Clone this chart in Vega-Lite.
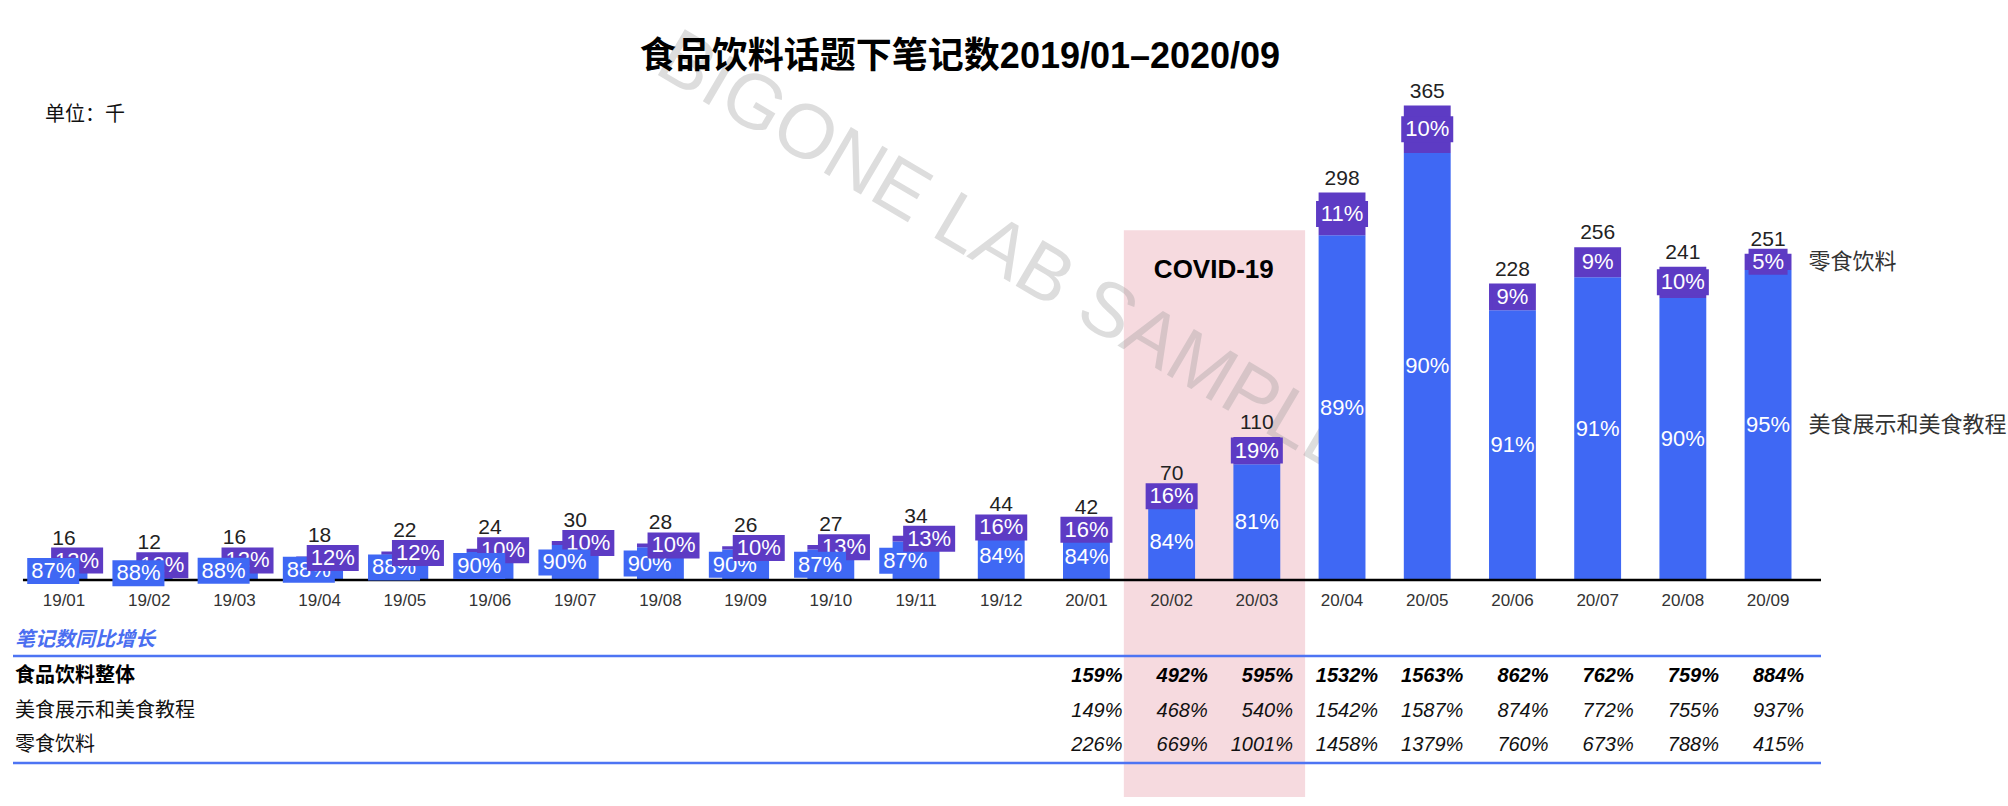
{
  "$schema": "https://vega.github.io/schema/vega-lite/v6.json",
  "autosize": "none",
  "width": 1808,
  "height": 715,
  "padding": {"left": 13, "top": 86, "right": 187, "bottom": 5},
  "background": "white",
  "title": {"text": "食品饮料话题下笔记数2019/01–2020/09", "fontSize": 36, "fontWeight": "bold", "color": "#000000", "anchor": "middle", "frame": "group", "dx": 43, "offset": -58},
  "config": {
    "view": {"stroke": null},
    "font": "Liberation Sans, 'Noto Sans CJK SC', sans-serif"
  },
  "datasets": {
    "notes": [
      {"m": "19/01", "s": "美食展示和美食教程", "v": 13.92, "p": 0.87, "t": 16},
      {"m": "19/01", "s": "零食饮料", "v": 2.08, "p": 0.13, "t": 16},
      {"m": "19/02", "s": "美食展示和美食教程", "v": 10.56, "p": 0.88, "t": 12},
      {"m": "19/02", "s": "零食饮料", "v": 1.44, "p": 0.12, "t": 12},
      {"m": "19/03", "s": "美食展示和美食教程", "v": 14.08, "p": 0.88, "t": 16},
      {"m": "19/03", "s": "零食饮料", "v": 1.92, "p": 0.12, "t": 16},
      {"m": "19/04", "s": "美食展示和美食教程", "v": 15.84, "p": 0.88, "t": 18},
      {"m": "19/04", "s": "零食饮料", "v": 2.16, "p": 0.12, "t": 18},
      {"m": "19/05", "s": "美食展示和美食教程", "v": 19.36, "p": 0.88, "t": 22},
      {"m": "19/05", "s": "零食饮料", "v": 2.64, "p": 0.12, "t": 22},
      {"m": "19/06", "s": "美食展示和美食教程", "v": 21.6, "p": 0.90, "t": 24},
      {"m": "19/06", "s": "零食饮料", "v": 2.4, "p": 0.10, "t": 24},
      {"m": "19/07", "s": "美食展示和美食教程", "v": 27, "p": 0.90, "t": 30},
      {"m": "19/07", "s": "零食饮料", "v": 3, "p": 0.10, "t": 30},
      {"m": "19/08", "s": "美食展示和美食教程", "v": 25.2, "p": 0.90, "t": 28},
      {"m": "19/08", "s": "零食饮料", "v": 2.8, "p": 0.10, "t": 28},
      {"m": "19/09", "s": "美食展示和美食教程", "v": 23.4, "p": 0.90, "t": 26},
      {"m": "19/09", "s": "零食饮料", "v": 2.6, "p": 0.10, "t": 26},
      {"m": "19/10", "s": "美食展示和美食教程", "v": 23.49, "p": 0.87, "t": 27},
      {"m": "19/10", "s": "零食饮料", "v": 3.51, "p": 0.13, "t": 27},
      {"m": "19/11", "s": "美食展示和美食教程", "v": 29.58, "p": 0.87, "t": 34},
      {"m": "19/11", "s": "零食饮料", "v": 4.42, "p": 0.13, "t": 34},
      {"m": "19/12", "s": "美食展示和美食教程", "v": 36.96, "p": 0.84, "t": 44},
      {"m": "19/12", "s": "零食饮料", "v": 7.04, "p": 0.16, "t": 44},
      {"m": "20/01", "s": "美食展示和美食教程", "v": 35.28, "p": 0.84, "t": 42},
      {"m": "20/01", "s": "零食饮料", "v": 6.72, "p": 0.16, "t": 42},
      {"m": "20/02", "s": "美食展示和美食教程", "v": 58.8, "p": 0.84, "t": 70},
      {"m": "20/02", "s": "零食饮料", "v": 11.2, "p": 0.16, "t": 70},
      {"m": "20/03", "s": "美食展示和美食教程", "v": 89.1, "p": 0.81, "t": 110},
      {"m": "20/03", "s": "零食饮料", "v": 20.9, "p": 0.19, "t": 110},
      {"m": "20/04", "s": "美食展示和美食教程", "v": 265.22, "p": 0.89, "t": 298},
      {"m": "20/04", "s": "零食饮料", "v": 32.78, "p": 0.11, "t": 298},
      {"m": "20/05", "s": "美食展示和美食教程", "v": 328.5, "p": 0.90, "t": 365},
      {"m": "20/05", "s": "零食饮料", "v": 36.5, "p": 0.10, "t": 365},
      {"m": "20/06", "s": "美食展示和美食教程", "v": 207.48, "p": 0.91, "t": 228},
      {"m": "20/06", "s": "零食饮料", "v": 20.52, "p": 0.09, "t": 228},
      {"m": "20/07", "s": "美食展示和美食教程", "v": 232.96, "p": 0.91, "t": 256},
      {"m": "20/07", "s": "零食饮料", "v": 23.04, "p": 0.09, "t": 256},
      {"m": "20/08", "s": "美食展示和美食教程", "v": 216.9, "p": 0.90, "t": 241},
      {"m": "20/08", "s": "零食饮料", "v": 24.1, "p": 0.10, "t": 241},
      {"m": "20/09", "s": "美食展示和美食教程", "v": 238.45, "p": 0.95, "t": 251},
      {"m": "20/09", "s": "零食饮料", "v": 12.55, "p": 0.05, "t": 251}
    ],
    "growth": [
      {"m": "20/01", "r": "食品饮料整体", "g": 1.59},
      {"m": "20/02", "r": "食品饮料整体", "g": 4.92},
      {"m": "20/03", "r": "食品饮料整体", "g": 5.95},
      {"m": "20/04", "r": "食品饮料整体", "g": 15.32},
      {"m": "20/05", "r": "食品饮料整体", "g": 15.63},
      {"m": "20/06", "r": "食品饮料整体", "g": 8.62},
      {"m": "20/07", "r": "食品饮料整体", "g": 7.62},
      {"m": "20/08", "r": "食品饮料整体", "g": 7.59},
      {"m": "20/09", "r": "食品饮料整体", "g": 8.84},
      {"m": "20/01", "r": "美食展示和美食教程", "g": 1.49},
      {"m": "20/02", "r": "美食展示和美食教程", "g": 4.68},
      {"m": "20/03", "r": "美食展示和美食教程", "g": 5.40},
      {"m": "20/04", "r": "美食展示和美食教程", "g": 15.42},
      {"m": "20/05", "r": "美食展示和美食教程", "g": 15.87},
      {"m": "20/06", "r": "美食展示和美食教程", "g": 8.74},
      {"m": "20/07", "r": "美食展示和美食教程", "g": 7.72},
      {"m": "20/08", "r": "美食展示和美食教程", "g": 7.55},
      {"m": "20/09", "r": "美食展示和美食教程", "g": 9.37},
      {"m": "20/01", "r": "零食饮料", "g": 2.26},
      {"m": "20/02", "r": "零食饮料", "g": 6.69},
      {"m": "20/03", "r": "零食饮料", "g": 10.01},
      {"m": "20/04", "r": "零食饮料", "g": 14.58},
      {"m": "20/05", "r": "零食饮料", "g": 13.79},
      {"m": "20/06", "r": "零食饮料", "g": 7.60},
      {"m": "20/07", "r": "零食饮料", "g": 6.73},
      {"m": "20/08", "r": "零食饮料", "g": 7.88},
      {"m": "20/09", "r": "零食饮料", "g": 4.15}
    ]
  },
  "data": {"name": "notes"},
  "layer": [
    {
      "mark": {"type": "bar", "opacity": 0},
      "encoding": {
        "x": {"field": "m", "type": "nominal", "axis": null,
              "scale": {"domain": ["19/01","19/02","19/03","19/04","19/05","19/06","19/07","19/08","19/09","19/10","19/11","19/12","20/01","20/02","20/03","20/04","20/05","20/06","20/07","20/08","20/09"],
                        "paddingInner": 0.45, "paddingOuter": 0.335, "align": 0.483}},
        "y": {"field": "v", "type": "quantitative", "stack": "zero", "axis": null,
              "scale": {"domain": [-170, 380], "nice": false, "zero": false}},
        "color": {"field": "s", "type": "nominal", "legend": null,
                  "scale": {"domain": ["美食展示和美食教程", "零食饮料"], "range": ["#3f68f4", "#5d3bc4"]}},
        "order": {"field": "s", "sort": "ascending"}
      }
    },
    {
      "data": {"values": [{}]},
      "mark": {"type": "rect", "color": "#f6dadf"},
      "encoding": {
        "x": {"datum": "20/02", "type": "nominal", "bandPosition": -0.52},
        "x2": {"datum": "20/03", "bandPosition": 1.53},
        "y": {"datum": 269, "type": "quantitative"},
        "y2": {"datum": -167}
      }
    },
    {
      "data": {"values": [{}]},
      "mark": {"type": "text", "text": "BIGONE LAB SAMPLE", "fontSize": 77, "angle": 30.5, "color": "#999999", "opacity": 0.33, "align": "center", "baseline": "middle"},
      "encoding": {
        "x": {"datum": "19/12", "type": "nominal", "bandPosition": 0.666},
        "y": {"datum": 250, "type": "quantitative"}
      }
    },
    {
      "mark": {"type": "bar"},
      "encoding": {
        "x": {"field": "m", "type": "nominal"},
        "y": {"field": "v", "type": "quantitative", "stack": "zero"},
        "color": {"field": "s", "type": "nominal"},
        "order": {"field": "s", "sort": "ascending"}
      }
    },
    {
      "data": {"values": [{}]},
      "mark": {"type": "rule", "color": "#000000", "strokeWidth": 2.5},
      "encoding": {
        "x": {"datum": "19/01", "type": "nominal", "bandPosition": -0.376},
        "x2": {"datum": "20/09", "bandPosition": 1.63},
        "y": {"datum": 0, "type": "quantitative"}
      }
    },
    {
      "transform": [{"filter": {"field": "m", "oneOf": ["19/01","19/02","19/03","19/06","19/07","19/10"]}}],
      "mark": {"type": "point", "filled": true, "size": 2704, "strokeWidth": 0},
      "encoding": {
        "x": {"field": "m", "type": "nominal", "bandPosition": 0.78},
        "y": {"field": "v", "type": "quantitative", "stack": "zero", "bandPosition": 0.5},
        "color": {"field": "s", "type": "nominal"},
        "order": {"field": "s", "sort": "ascending"},
        "shape": {"value": "M-1,-0.5H1V0.5H-1Z"},
        "opacity": {"condition": {"test": "datum.s == '零食饮料'", "value": 1}, "value": 0}
      }
    },
    {
      "transform": [{"filter": {"field": "m", "oneOf": ["19/01","19/02","19/03","19/06","19/07","19/10"]}}],
      "mark": {"type": "text", "color": "#ffffff", "fontSize": 22, "baseline": "middle"},
      "encoding": {
        "x": {"field": "m", "type": "nominal", "bandPosition": 0.78},
        "y": {"field": "v", "type": "quantitative", "stack": "zero", "bandPosition": 0.5},
        "detail": {"field": "s"},
        "order": {"field": "s", "sort": "ascending"},
        "text": {"condition": {"test": "datum.s == '零食饮料'", "field": "p", "type": "quantitative", "format": ".0%"}, "value": ""}
      }
    },
    {
      "transform": [{"filter": "datum.t < 40"}],
      "mark": {"type": "point", "filled": true, "size": 2704, "strokeWidth": 0},
      "encoding": {
        "x": {"field": "m", "type": "nominal", "bandPosition": 0.27},
        "y": {"field": "v", "type": "quantitative", "stack": "zero", "bandPosition": 0.5},
        "color": {"field": "s", "type": "nominal"},
        "order": {"field": "s", "sort": "ascending"},
        "shape": {"value": "M-1,-0.5H1V0.5H-1Z"},
        "opacity": {"condition": {"test": "datum.s == '美食展示和美食教程'", "value": 1}, "value": 0}
      }
    },
    {
      "transform": [{"filter": "datum.t < 40"}],
      "mark": {"type": "text", "color": "#ffffff", "fontSize": 22, "baseline": "middle"},
      "encoding": {
        "x": {"field": "m", "type": "nominal", "bandPosition": 0.27},
        "y": {"field": "v", "type": "quantitative", "stack": "zero", "bandPosition": 0.5},
        "detail": {"field": "s"},
        "order": {"field": "s", "sort": "ascending"},
        "text": {"condition": {"test": "datum.s == '美食展示和美食教程'", "field": "p", "type": "quantitative", "format": ".0%"}, "value": ""}
      }
    },
    {
      "transform": [{"filter": "datum.t >= 40"}],
      "mark": {"type": "text", "color": "#ffffff", "fontSize": 22, "baseline": "middle"},
      "encoding": {
        "x": {"field": "m", "type": "nominal"},
        "y": {"field": "v", "type": "quantitative", "stack": "zero", "bandPosition": 0.5},
        "detail": {"field": "s"},
        "order": {"field": "s", "sort": "ascending"},
        "text": {"condition": {"test": "datum.s == '美食展示和美食教程'", "field": "p", "type": "quantitative", "format": ".0%"}, "value": ""}
      }
    },
    {
      "transform": [{"filter": {"and": [{"field": "t", "lt": 40}, {"not": {"field": "m", "oneOf": ["19/01","19/02","19/03","19/06","19/07","19/10"]}}]}}],
      "mark": {"type": "point", "filled": true, "size": 2704, "strokeWidth": 0},
      "encoding": {
        "x": {"field": "m", "type": "nominal", "bandPosition": 0.78},
        "y": {"field": "v", "type": "quantitative", "stack": "zero", "bandPosition": 0.5},
        "color": {"field": "s", "type": "nominal"},
        "order": {"field": "s", "sort": "ascending"},
        "shape": {"value": "M-1,-0.5H1V0.5H-1Z"},
        "opacity": {"condition": {"test": "datum.s == '零食饮料'", "value": 1}, "value": 0}
      }
    },
    {
      "transform": [{"filter": {"and": [{"field": "t", "lt": 40}, {"not": {"field": "m", "oneOf": ["19/01","19/02","19/03","19/06","19/07","19/10"]}}]}}],
      "mark": {"type": "text", "color": "#ffffff", "fontSize": 22, "baseline": "middle"},
      "encoding": {
        "x": {"field": "m", "type": "nominal", "bandPosition": 0.78},
        "y": {"field": "v", "type": "quantitative", "stack": "zero", "bandPosition": 0.5},
        "detail": {"field": "s"},
        "order": {"field": "s", "sort": "ascending"},
        "text": {"condition": {"test": "datum.s == '零食饮料'", "field": "p", "type": "quantitative", "format": ".0%"}, "value": ""}
      }
    },
    {
      "transform": [{"filter": "datum.t >= 40"}],
      "mark": {"type": "point", "filled": true, "size": 2704, "strokeWidth": 0},
      "encoding": {
        "x": {"field": "m", "type": "nominal"},
        "y": {"field": "v", "type": "quantitative", "stack": "zero", "bandPosition": 0.5},
        "color": {"field": "s", "type": "nominal"},
        "order": {"field": "s", "sort": "ascending"},
        "shape": {"condition": {"test": "datum.p < 0.1", "value": "M-0.75,-0.5H0.75V0.5H-0.75Z"}, "value": "M-1,-0.5H1V0.5H-1Z"},
        "opacity": {"condition": {"test": "datum.s == '零食饮料'", "value": 1}, "value": 0}
      }
    },
    {
      "transform": [{"filter": "datum.t >= 40"}],
      "mark": {"type": "text", "color": "#ffffff", "fontSize": 22, "baseline": "middle"},
      "encoding": {
        "x": {"field": "m", "type": "nominal"},
        "y": {"field": "v", "type": "quantitative", "stack": "zero", "bandPosition": 0.5},
        "detail": {"field": "s"},
        "order": {"field": "s", "sort": "ascending"},
        "text": {"condition": {"test": "datum.s == '零食饮料'", "field": "p", "type": "quantitative", "format": ".0%"}, "value": ""}
      }
    },
    {
      "transform": [{"filter": "(datum.s == '零食饮料' ? datum.v : datum.t - datum.v) < 20"}],
      "mark": {"type": "text", "color": "#222222", "fontSize": 21, "baseline": "alphabetic", "dy": -16},
      "encoding": {
        "x": {"field": "m", "type": "nominal"},
        "y": {"field": "v", "type": "quantitative", "stack": "zero", "bandPosition": 0.5},
        "detail": {"field": "s"},
        "order": {"field": "s", "sort": "ascending"},
        "text": {"condition": {"test": "datum.s == '零食饮料'", "field": "t", "type": "quantitative"}, "value": ""}
      }
    },
    {
      "transform": [{"filter": "(datum.s == '零食饮料' ? datum.v : datum.t - datum.v) >= 20"}],
      "mark": {"type": "text", "color": "#222222", "fontSize": 21, "baseline": "alphabetic", "dy": -8},
      "encoding": {
        "x": {"field": "m", "type": "nominal"},
        "y": {"field": "v", "type": "quantitative", "stack": "zero"},
        "detail": {"field": "s"},
        "order": {"field": "s", "sort": "ascending"},
        "text": {"condition": {"test": "datum.s == '零食饮料'", "field": "t", "type": "quantitative"}, "value": ""}
      }
    },
    {
      "transform": [{"filter": "datum.m == '20/09'"}],
      "mark": {"type": "text", "color": "#333333", "fontSize": 22, "align": "left", "baseline": "middle", "dx": 17},
      "encoding": {
        "x": {"field": "m", "type": "nominal", "bandPosition": 1},
        "y": {"field": "v", "type": "quantitative", "stack": "zero", "bandPosition": 0.5},
        "detail": {"field": "s"},
        "order": {"field": "s", "sort": "ascending"},
        "text": {"field": "s"}
      }
    },
    {
      "transform": [{"filter": "datum.s == '美食展示和美食教程'"}],
      "mark": {"type": "text", "color": "#333333", "fontSize": 17, "baseline": "middle"},
      "encoding": {
        "x": {"field": "m", "type": "nominal"},
        "y": {"datum": -16.2, "type": "quantitative"},
        "text": {"field": "m"}
      }
    },
    {
      "data": {"values": [{}]},
      "mark": {"type": "text", "text": "单位：千", "color": "#111111", "fontSize": 20, "align": "left", "baseline": "middle"},
      "encoding": {
        "x": {"datum": "19/01", "type": "nominal", "bandPosition": 0.094},
        "y": {"datum": 357.7, "type": "quantitative"}
      }
    },
    {
      "data": {"values": [{}]},
      "mark": {"type": "text", "text": "COVID-19", "color": "#000000", "fontSize": 26, "fontWeight": "bold", "align": "center", "baseline": "middle"},
      "encoding": {
        "x": {"datum": "20/02", "type": "nominal", "bandPosition": 1.40},
        "y": {"datum": 238.5, "type": "quantitative"}
      }
    },
    {
      "data": {"values": [{}]},
      "mark": {"type": "text", "text": "笔记数同比增长", "color": "#4a6ef0", "fontSize": 20, "fontWeight": "bold", "fontStyle": "italic", "align": "left", "baseline": "middle"},
      "encoding": {
        "x": {"datum": "19/01", "type": "nominal", "bandPosition": -0.546},
        "y": {"datum": -46.2, "type": "quantitative"}
      }
    },
    {
      "data": {"values": [{}]},
      "mark": {"type": "rule", "color": "#4d74f3", "strokeWidth": 2.5},
      "encoding": {"y": {"datum": -58.5, "type": "quantitative"}}
    },
    {
      "data": {"values": [{}]},
      "mark": {"type": "rule", "color": "#4d74f3", "strokeWidth": 2.5},
      "encoding": {"y": {"datum": -140.8, "type": "quantitative"}}
    },
    {
      "data": {"values": [{}]},
      "mark": {"type": "text", "text": "食品饮料整体", "color": "#000000", "fontSize": 20, "fontWeight": "bold", "align": "left", "baseline": "middle"},
      "encoding": {
        "x": {"datum": "19/01", "type": "nominal", "bandPosition": -0.546},
        "y": {"datum": -73.8, "type": "quantitative"}
      }
    },
    {
      "data": {"values": [{}]},
      "mark": {"type": "text", "text": "美食展示和美食教程", "color": "#111111", "fontSize": 20, "align": "left", "baseline": "middle"},
      "encoding": {
        "x": {"datum": "19/01", "type": "nominal", "bandPosition": -0.546},
        "y": {"datum": -100.8, "type": "quantitative"}
      }
    },
    {
      "data": {"values": [{}]},
      "mark": {"type": "text", "text": "零食饮料", "color": "#111111", "fontSize": 20, "align": "left", "baseline": "middle"},
      "encoding": {
        "x": {"datum": "19/01", "type": "nominal", "bandPosition": -0.546},
        "y": {"datum": -126.9, "type": "quantitative"}
      }
    },
    {
      "data": {"name": "growth"},
      "transform": [{"filter": "datum.r == '食品饮料整体'"}],
      "mark": {"type": "text", "color": "#000000", "fontSize": 20, "fontWeight": "bold", "fontStyle": "italic", "align": "right", "baseline": "middle"},
      "encoding": {
        "x": {"field": "m", "type": "nominal", "bandPosition": 1.27},
        "y": {"datum": -73.8, "type": "quantitative"},
        "text": {"field": "g", "type": "quantitative", "format": ".0%"}
      }
    },
    {
      "data": {"name": "growth"},
      "transform": [{"filter": "datum.r == '美食展示和美食教程'"}],
      "mark": {"type": "text", "color": "#111111", "fontSize": 20, "fontStyle": "italic", "align": "right", "baseline": "middle"},
      "encoding": {
        "x": {"field": "m", "type": "nominal", "bandPosition": 1.27},
        "y": {"datum": -100.8, "type": "quantitative"},
        "text": {"field": "g", "type": "quantitative", "format": ".0%"}
      }
    },
    {
      "data": {"name": "growth"},
      "transform": [{"filter": "datum.r == '零食饮料'"}],
      "mark": {"type": "text", "color": "#111111", "fontSize": 20, "fontStyle": "italic", "align": "right", "baseline": "middle"},
      "encoding": {
        "x": {"field": "m", "type": "nominal", "bandPosition": 1.27},
        "y": {"datum": -126.9, "type": "quantitative"},
        "text": {"field": "g", "type": "quantitative", "format": ".0%"}
      }
    }
  ]
}
